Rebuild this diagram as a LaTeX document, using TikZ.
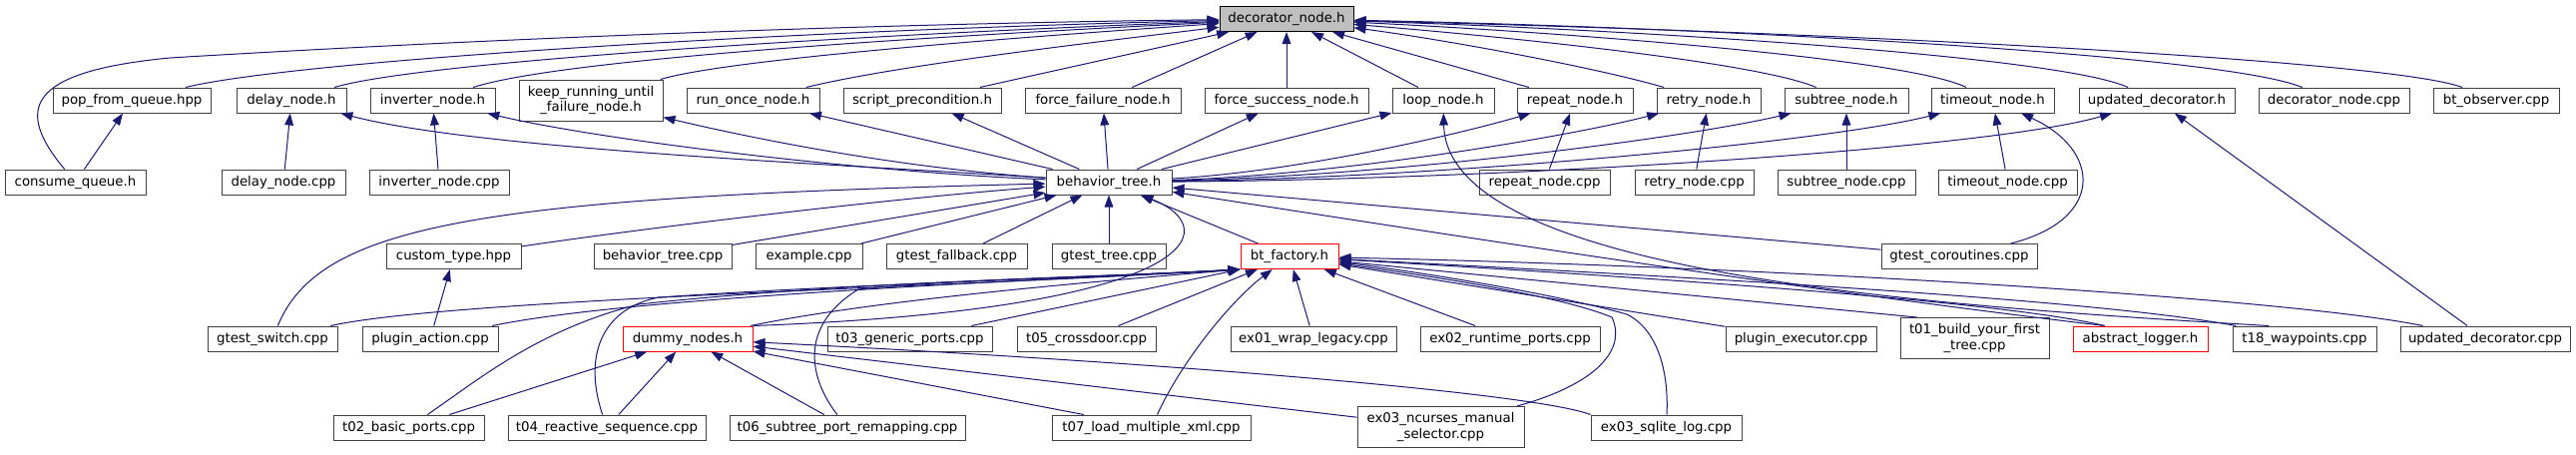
\documentclass[tikz,border=0pt]{standalone}
\usepackage{fontspec}
\setmainfont{DejaVu Sans}
\usetikzlibrary{arrows.meta}
\definecolor{midnightblue}{HTML}{191970}
\definecolor{grey25}{HTML}{404040}
\definecolor{grey75}{HTML}{BFBFBF}
\begin{document}
\begin{tikzpicture}[x=0.75pt,y=0.75pt,yscale=-1,xscale=1,
  filebox/.style={draw=grey25,fill=white,line width=0.75pt,inner sep=0pt,minimum height=18.75pt,align=center,font=\fontsize{10}{11.5}\selectfont},
  tallfile/.style={filebox,minimum height=30.75pt},
  redfile/.style={filebox,draw=red},
  rootfile/.style={filebox,draw=black,fill=grey75},
  incl/.style={draw=midnightblue,line width=0.75pt,-{Triangle[length=9pt,width=6.5pt]}}]
\path[use as bounding box,fill=white] (0,0) rectangle (2581,455);
\node[rootfile,minimum width=100.5pt] (dec) at (1289,19) {decorator\_node.h};
\node[filebox,minimum width=118.5pt] (pfq) at (132,100.5) {pop\_from\_queue.hpp};
\node[filebox,minimum width=82.5pt] (delayh) at (292,100.5) {delay\_node.h};
\node[filebox,minimum width=93.75pt] (invh) at (433.5,100.5) {inverter\_node.h};
\node[tallfile,minimum width=108pt] (keep) at (592,100.5) {keep\_running\_until\\\_failure\_node.h};
\node[filebox,minimum width=99.75pt] (runonce) at (754.5,100.5) {run\_once\_node.h};
\node[filebox,minimum width=118.5pt] (script) at (924,100.5) {script\_precondition.h};
\node[filebox,minimum width=117pt] (ffail) at (1105,100.5) {force\_failure\_node.h};
\node[filebox,minimum width=123pt] (fsucc) at (1289,100.5) {force\_success\_node.h};
\node[filebox,minimum width=76.5pt] (looph) at (1446,100.5) {loop\_node.h};
\node[filebox,minimum width=87pt] (repeath) at (1578,100.5) {repeat\_node.h};
\node[filebox,minimum width=78pt] (retryh) at (1712,100.5) {retry\_node.h};
\node[filebox,minimum width=93pt] (subtreeh) at (1850,100.5) {subtree\_node.h};
\node[filebox,minimum width=92.25pt] (timeouth) at (1996.5,100.5) {timeout\_node.h};
\node[filebox,minimum width=117pt] (updh) at (2161,100.5) {updated\_decorator.h};
\node[filebox,minimum width=113.25pt] (deccpp) at (2338.5,100.5) {decorator\_node.cpp};
\node[filebox,minimum width=94.5pt] (btobs) at (2501,100.5) {bt\_observer.cpp};
\node[filebox,minimum width=105.75pt] (cq) at (75.5,182.5) {consume\_queue.h};
\node[filebox,minimum width=93pt] (delaycpp) at (284,182.5) {delay\_node.cpp};
\node[filebox,minimum width=105pt] (invcpp) at (440,182.5) {inverter\_node.cpp};
\node[filebox,minimum width=94.5pt] (bt) at (1111,182.5) {behavior\_tree.h};
\node[filebox,minimum width=98.25pt] (repeatcpp) at (1547.5,182.5) {repeat\_node.cpp};
\node[filebox,minimum width=89.25pt] (retrycpp) at (1697.5,182.5) {retry\_node.cpp};
\node[filebox,minimum width=103.5pt] (subtreecpp) at (1850,182.5) {subtree\_node.cpp};
\node[filebox,minimum width=104.25pt] (timeoutcpp) at (2011.5,182.5) {timeout\_node.cpp};
\node[filebox,minimum width=101.25pt] (ctype) at (454.5,257) {custom\_type.hpp};
\node[filebox,minimum width=103.5pt] (btcpp) at (664,257) {behavior\_tree.cpp};
\node[filebox,minimum width=80.25pt] (example) at (810.5,257) {example.cpp};
\node[filebox,minimum width=105.75pt] (gfall) at (958.5,257) {gtest\_fallback.cpp};
\node[filebox,minimum width=85.5pt] (gtree) at (1111,257) {gtest\_tree.cpp};
\node[redfile,minimum width=73.5pt] (btf) at (1292,257) {bt\_factory.h};
\node[filebox,minimum width=117pt] (gcor) at (1963,257) {gtest\_coroutines.cpp};
\node[filebox,minimum width=97.5pt] (gswitch) at (273,339.5) {gtest\_switch.cpp};
\node[filebox,minimum width=102pt] (paction) at (431,339.5) {plugin\_action.cpp};
\node[redfile,minimum width=97.5pt] (dummy) at (689,339.5) {dummy\_nodes.h};
\node[filebox,minimum width=123.75pt] (t03) at (911.5,339.5) {t03\_generic\_ports.cpp};
\node[filebox,minimum width=104.25pt] (t05) at (1088.5,339.5) {t05\_crossdoor.cpp};
\node[filebox,minimum width=124.5pt] (ex01) at (1316,339.5) {ex01\_wrap\_legacy.cpp};
\node[filebox,minimum width=135pt] (ex02) at (1513,339.5) {ex02\_runtime\_ports.cpp};
\node[filebox,minimum width=113.25pt] (pexec) at (1804.5,339.5) {plugin\_executor.cpp};
\node[tallfile,minimum width=111.75pt] (t01) at (1978.5,339) {t01\_build\_your\_first\\\_tree.cpp};
\node[redfile,minimum width=101.25pt] (absl) at (2144.5,339.5) {abstract\_logger.h};
\node[filebox,minimum width=108pt] (t18) at (2309,339.5) {t18\_waypoints.cpp};
\node[filebox,minimum width=127.5pt] (updcpp) at (2490,339.5) {updated\_decorator.cpp};
\node[filebox,minimum width=113.25pt] (t02) at (409.5,428.5) {t02\_basic\_ports.cpp};
\node[filebox,minimum width=148.5pt] (t04) at (608,428.5) {t04\_reactive\_sequence.cpp};
\node[filebox,minimum width=177pt] (t06) at (849,428.5) {t06\_subtree\_port\_remapping.cpp};
\node[filebox,minimum width=149.25pt] (t07) at (1153.5,428.5) {t07\_load\_multiple\_xml.cpp};
\node[tallfile,minimum width=125.25pt] (ex03n) at (1443.5,428) {ex03\_ncurses\_manual\\\_selector.cpp};
\node[filebox,minimum width=113.25pt] (ex03s) at (1669.5,428.5) {ex03\_sqlite\_log.cpp};
\draw[incl] (cq) .. controls (15,110) and (25,72) .. (170,58) .. controls (600,32) and (1000,22) .. (dec);
\draw[incl] (pfq) .. controls (300,60) and (800,30) .. (dec);
\draw[incl] (delayh) .. controls (420,62) and (850,35) .. (dec);
\draw[incl] (invh) .. controls (560,60) and (900,38) .. (dec);
\draw[incl] (keep) .. controls (720,62) and (950,42) .. (dec);
\draw[incl] (runonce) .. controls (900,65) and (1100,42) .. (dec);
\draw[incl] (script) .. controls (1060,70) and (1160,48) .. (dec);
\draw[incl] (ffail) -- (dec);
\draw[incl] (fsucc) -- (dec);
\draw[incl] (looph) -- (dec);
\draw[incl] (repeath) -- (dec);
\draw[incl] (retryh) .. controls (1600,68) and (1450,40) .. (dec);
\draw[incl] (subtreeh) .. controls (1760,62) and (1500,36) .. (dec);
\draw[incl] (timeouth) .. controls (1910,58) and (1560,32) .. (dec);
\draw[incl] (updh) .. controls (2060,55) and (1620,29) .. (dec);
\draw[incl] (deccpp) .. controls (2220,52) and (1660,26) .. (dec);
\draw[incl] (btobs) .. controls (2400,62) and (1900,34) .. (dec);
\draw[incl] (cq) -- (pfq);
\draw[incl] (delaycpp) -- (delayh);
\draw[incl] (invcpp) -- (invh);
\draw[incl] (repeatcpp) -- (repeath);
\draw[incl] (retrycpp) -- (retryh);
\draw[incl] (subtreecpp) -- (subtreeh);
\draw[incl] (timeoutcpp) -- (timeouth);
\draw[incl] (gcor) .. controls (2110,220) and (2105,150) .. (timeouth);
\draw[incl] (updcpp) -- (updh);
\draw[incl] (t18.160) .. controls (1900,305) and (1450,270) .. (looph);
\draw[incl] (bt) .. controls (850,165) and (480,150) .. (delayh);
\draw[incl] (bt) .. controls (860,172) and (600,140) .. (invh);
\draw[incl] (bt) .. controls (900,168) and (760,140) .. (keep);
\draw[incl] (bt) -- (runonce);
\draw[incl] (bt) -- (script);
\draw[incl] (bt) -- (ffail);
\draw[incl] (bt) -- (fsucc);
\draw[incl] (bt) -- (looph);
\draw[incl] (bt) .. controls (1300,172) and (1460,135) .. (repeath);
\draw[incl] (bt) .. controls (1350,175) and (1580,135) .. (retryh);
\draw[incl] (bt) .. controls (1400,176) and (1690,138) .. (subtreeh);
\draw[incl] (bt) .. controls (1450,178) and (1830,142) .. (timeouth);
\draw[incl] (bt) .. controls (1500,180) and (1990,150) .. (updh);
\draw[incl] (gswitch) .. controls (320,225) and (480,198) .. (bt);
\draw[incl] (ctype) .. controls (650,228) and (900,198) .. (bt);
\draw[incl] (btcpp) -- (bt);
\draw[incl] (example) -- (bt);
\draw[incl] (gfall) -- (bt);
\draw[incl] (gtree) -- (bt);
\draw[incl] (btf) -- (bt);
\draw[incl] (gcor) -- (bt);
\draw[incl] (dummy.north east) .. controls (1200,310) and (1230,230) .. (bt);
\draw[incl] (absl.160) .. controls (1800,290) and (1450,235) .. (bt);
\draw[incl] (paction) -- (ctype);
\draw[incl] (gswitch) .. controls (450,300) and (950,288) .. (btf.south west);
\draw[incl] (paction) .. controls (620,300) and (950,285) .. (btf.south west);
\draw[incl] (dummy) .. controls (880,300) and (1100,282) .. (btf.south west);
\draw[incl] (t02) .. controls (480,380) and (540,330) .. (640,305) .. controls (850,282) and (1100,278) .. (btf.south west);
\draw[incl] (t04) .. controls (585,360) and (600,310) .. (660,298) .. controls (850,285) and (1100,278) .. (btf.south west);
\draw[incl] (t06) .. controls (815,385) and (795,330) .. (860,290) .. controls (950,280) and (1150,276) .. (btf.south west);
\draw[incl] (t03) -- (btf.south west);
\draw[incl] (t05) -- (btf);
\draw[incl] (t07) .. controls (1185,360) and (1235,300) .. (btf);
\draw[incl] (ex01) -- (btf);
\draw[incl] (ex02) -- (btf);
\draw[incl] (ex03n) .. controls (1600,385) and (1630,350) .. (1615,318) .. controls (1560,295) and (1420,275) .. (btf);
\draw[incl] (ex03s) .. controls (1672,370) and (1660,330) .. (1630,315) .. controls (1560,295) and (1420,272) .. (btf);
\draw[incl] (pexec) -- (btf);
\draw[incl] (t01.160) -- (btf);
\draw[incl] (absl.160) .. controls (2000,300) and (1600,275) .. (btf);
\draw[incl] (t18) .. controls (2100,300) and (1700,278) .. (btf);
\draw[incl] (updcpp) .. controls (2300,300) and (1800,268) .. (btf);
\draw[incl] (t02) -- (dummy);
\draw[incl] (t04) -- (dummy);
\draw[incl] (t06) -- (dummy);
\draw[incl] (t07) -- (dummy);
\draw[incl] (ex03n) -- (dummy);
\draw[incl] (ex03s.north west) .. controls (1540,395) and (1200,365) .. (dummy);
\end{tikzpicture}
\end{document}
